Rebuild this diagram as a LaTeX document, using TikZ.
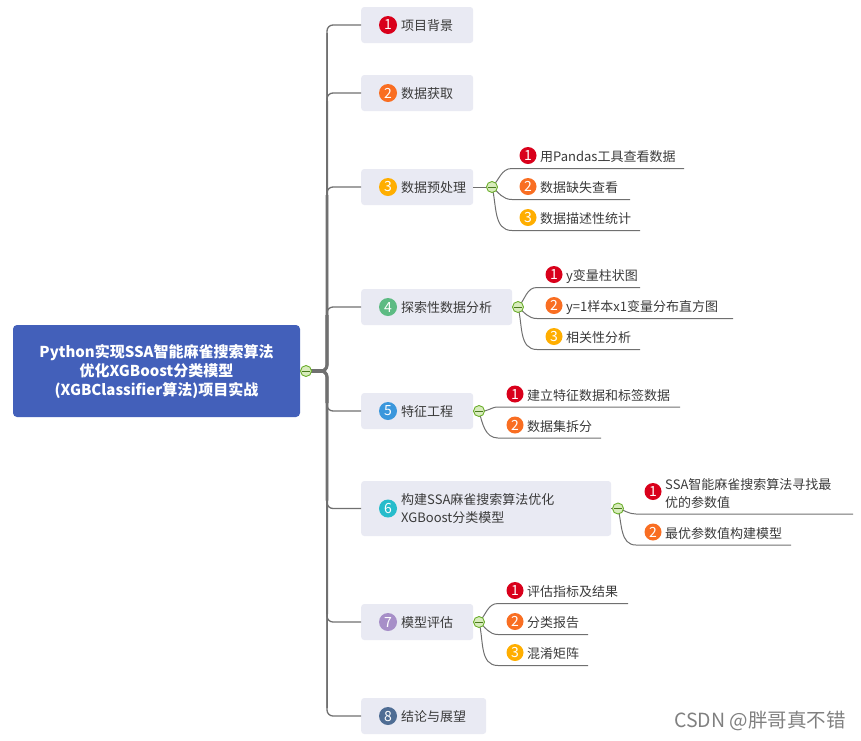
\documentclass[tikz,border=0pt]{standalone}
\usepackage{fontspec}
\setmainfont{Noto Sans CJK SC}
\newfontfamily\wmfont{Noto Sans CJK SC}
\definecolor{cbox}{HTML}{E9EAF3}
\definecolor{croot}{HTML}{4360BA}
\definecolor{cline}{HTML}{707070}
\definecolor{ctext}{HTML}{3A3A3A}
\definecolor{mred}{HTML}{D9001B}
\definecolor{morange}{HTML}{F96E22}
\definecolor{myellow}{HTML}{FFAE00}
\definecolor{mgreen}{HTML}{5DBB83}
\definecolor{mblue}{HTML}{3B97DC}
\definecolor{mcyan}{HTML}{27BCCB}
\definecolor{mpurple}{HTML}{A78FC8}
\definecolor{mslate}{HTML}{4F6D94}
\definecolor{tgline}{HTML}{6AAE2B}
\definecolor{tgfill}{HTML}{D8ECBC}
\tikzset{
  x=1pt,y=-1pt,
  rootbox/.style={draw=none,fill=croot,rounded corners=4pt,minimum width=287pt,minimum height=92pt,inner sep=0pt,
    text=white,align=center,font=\fontsize{15}{19}\selectfont\bfseries},
  topicbox/.style={draw=none,fill=cbox,rounded corners=3pt,inner sep=0pt,anchor=west},
  marker/.style={circle,fill=#1,minimum size=18pt,inner sep=0pt,text=white,font=\fontsize{14}{14}\selectfont},
  smallmark/.style={circle,fill=#1,minimum size=17pt,inner sep=0pt,text=white,font=\fontsize{14}{14}\selectfont},
  lbl/.style={anchor=west,inner sep=0pt,text=ctext,font=\fontsize{13}{19}\selectfont,align=left},
  toggle/.style={circle,draw=tgline,fill=tgfill,line width=0.9pt,minimum size=11pt,inner sep=0pt,
    path picture={\draw[tgline!70!black,line width=0.9pt]
      ([xshift=-3.6pt]path picture bounding box.center) -- ([xshift=3.6pt]path picture bounding box.center);}},
  branch/.style={draw=cline,line width=1.3pt,rounded corners=6pt},
  trunk/.style={draw=cline,line width=#1,rounded corners=6pt,shorten >=8pt},
  twig/.style={draw=cline,line width=1pt},
}
\newcommand{\mmtopic}[7]{% name, width, y, height, colour, num, text
  \node[topicbox,minimum width=#2pt,minimum height=#4pt] (#1) at (361,#3) {};
  \node[marker=#5] (#1m) at (388,#3) {#6};
  \node[lbl] (#1t) at (401,{#3+1}) {#7};
}
\newcommand{\mmitem}[8]{% name, toggle, out, start x, end x, y underline, colour+num, text
  \coordinate (#1s) at (#4,#6);
  \coordinate (#1e) at (#5,#6);
  \draw[twig] (#2) to[out=#3,in=180] (#1s) -- (#1e);
  \node[smallmark=#7] (#1m) at ({#4+\mmoff},{#6-13}) {\mmnum};
  \node[lbl] (#1t) at ({#4+\mmoff+12},{#6-11.5}) {#8};
}
\newcommand{\mmoff}{0}
\newcommand{\mmnum}{}
\begin{document}
\begin{tikzpicture}
\useasboundingbox (0,0) rectangle (861,740);
\node[rootbox] (root) at (156.5,371) {Python实现SSA智能麻雀搜索算法\\优化XGBoost分类模型\\(XGBClassifier算法)项目实战};
\coordinate (rootT) at (306,371);
\coordinate (sp) at (327,371);

\mmtopic{a}{112}{25}{36}{mred}{1}{项目背景}
\mmtopic{b}{112}{93}{36}{morange}{2}{数据获取}
\mmtopic{c}{112}{187}{36}{myellow}{3}{数据预处理}
\mmtopic{d}{151}{307}{36}{mgreen}{4}{探索性数据分析}
\mmtopic{e}{112}{411}{36}{mblue}{5}{特征工程}
\mmtopic{f}{250}{508.5}{55}{mcyan}{6}{\begin{tabular}{@{}l@{}}构建SSA麻雀搜索算法优化\\[-1pt]XGBoost分类模型\end{tabular}}
\mmtopic{g}{112}{622}{36}{mpurple}{7}{模型评估}
\mmtopic{h}{125}{716}{36}{mslate}{8}{结论与展望}

% trunk, tapering away from the root
\foreach \t/\w in {a/1.5pt,h/1.5pt,b/2pt,g/2pt,c/2.6pt,f/2.6pt,d/3.2pt,e/3.2pt}{
  \draw[trunk=\w] (rootT) -- (sp) -- (sp |- \t.west);
  \draw[branch] (rootT) -- (sp) -- (sp |- \t.west) -- (\t.west);
}
\draw[cline,line width=4.5pt] (rootT) -- ([xshift=-2pt]sp);

% toggles' anchor points
\coordinate (cT) at (492,187);
\coordinate (dT) at (518,307);
\coordinate (eT) at (479,411);
\coordinate (fT) at (618,508.5);
\coordinate (gT) at (479,622);
\foreach \t in {c,d,e,f,g}{\draw[twig] (\t.east) -- (\t T);}

% section 3
\renewcommand{\mmoff}{16}\renewcommand{\mmnum}{1}
\mmitem{c1}{cT}{45}{512}{684}{168.5}{mred}{用Pandas工具查看数据}
\renewcommand{\mmnum}{2}
\mmitem{c2}{cT}{-40}{512}{630}{199.5}{morange}{数据缺失查看}
\renewcommand{\mmnum}{3}
\mmitem{c3}{cT}{-75}{512}{640}{230.5}{myellow}{数据描述性统计}
% section 4
\renewcommand{\mmoff}{17}\renewcommand{\mmnum}{1}
\mmitem{d1}{dT}{45}{537}{640}{287.5}{mred}{y变量柱状图}
\renewcommand{\mmnum}{2}
\mmitem{d2}{dT}{-40}{537}{733}{318.5}{morange}{y=1样本x1变量分布直方图}
\renewcommand{\mmnum}{3}
\mmitem{d3}{dT}{-75}{537}{640}{349.5}{myellow}{相关性分析}
% section 5
\renewcommand{\mmoff}{17}\renewcommand{\mmnum}{1}
\mmitem{e1}{eT}{-15}{498}{680}{407}{mred}{建立特征数据和标签数据}
\renewcommand{\mmnum}{2}
\mmitem{e2}{eT}{-75}{498}{601}{438}{morange}{数据集拆分}
% section 6
\coordinate (f1s) at (636,514);
\coordinate (f1e) at (853,514);
\draw[twig] (fT) to[out=-15,in=180] (f1s) -- (f1e);
\node[smallmark=mred] (f1m) at (653,491.5) {1};
\node[lbl] (f1t) at (665,494.5) {\begin{tabular}{@{}l@{}}SSA智能麻雀搜索算法寻找最\\[-0.5pt]优的参数值\end{tabular}};
\renewcommand{\mmoff}{17}\renewcommand{\mmnum}{2}
\mmitem{f2}{fT}{-75}{636}{791}{545}{morange}{最优参数值构建模型}
% section 7
\renewcommand{\mmoff}{17}\renewcommand{\mmnum}{1}
\mmitem{g1}{gT}{45}{498}{628}{603.5}{mred}{评估指标及结果}
\renewcommand{\mmnum}{2}
\mmitem{g2}{gT}{-40}{498}{588}{634.5}{morange}{分类报告}
\renewcommand{\mmnum}{3}
\mmitem{g3}{gT}{-75}{498}{588}{665.5}{myellow}{混淆矩阵}

% toggles
\node[toggle] (rootTg) at (rootT) {};
\foreach \t in {c,d,e,f,g}{\node[toggle] (\t Tg) at (\t T) {};}

\node[anchor=east,inner sep=0pt,text=black!50,font=\fontsize{19.5}{22}\selectfont] (wm) at (846,720.5) {CSDN @胖哥真不错};
\end{tikzpicture}
\end{document}
